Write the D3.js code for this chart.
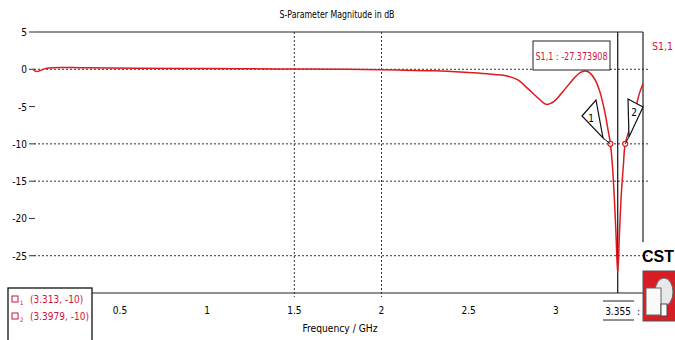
<!DOCTYPE html>
<html>
<head>
<meta charset="utf-8">
<script src="https://cdn.jsdelivr.net/npm/d3@7"></script>
<style>
  body { margin: 0; background: #fff; }
  svg text { font-family: "DejaVu Sans Condensed", "DejaVu Sans", sans-serif; }
</style>
</head>
<body>
<div id="chart"></div>
<script>
// S-parameter S1,1
const freq = [0, 0.02, 0.04, 0.08, 0.3, 0.6, 1.0, 1.4, 1.8, 2.1, 2.3, 2.45, 2.55, 2.65, 2.72, 2.78, 2.84, 2.9, 2.945, 2.99, 3.04, 3.09, 3.13, 3.16, 3.19, 3.22, 3.25, 3.28, 3.3, 3.313, 3.325, 3.335, 3.345, 3.355, 3.365, 3.375, 3.387, 3.3979, 3.42, 3.45, 3.48, 3.5];
const s11 = [0, -0.3, -0.2, 0.15, 0.2, 0.15, 0.1, 0.05, 0.0, -0.1, -0.2, -0.35, -0.5, -0.7, -0.9, -1.4, -2.6, -3.9, -4.7, -4.3, -3.0, -1.6, -0.6, -0.25, -0.4, -1.2, -2.8, -5.6, -8.2, -10, -13, -17, -22, -27.37, -22, -17, -13, -10, -8.2, -5.9, -3.2, -1.9];

const yTicks = [5, 0, -5, -10, -15, -20, -25];
const xTicks = [0.5, 1, 1.5, 2, 2.5, 3];
const yGrid = [0, -10, -15, -25];
const xGrid = [1.5, 2];
const markers = [[3.313, -10], [3.3979, -10]];
const markerLabels = ["(3.313, -10)", "(3.3979, -10)"];
const cursorFreq = 3.355;
const minLabel = "S1,1 : -27.373908";

const W = 675, H = 340;
const svg = d3.select("#chart").append("svg").attr("width", W).attr("height", H);

const x = d3.scaleLinear().domain([0, 3.5]).range([32.8, 643]);
const y = d3.scaleLinear().domain([-30, 5]).range([293, 32]);

// title
svg.append("text").attr("x", 337).attr("y", 18).attr("text-anchor", "middle")
  .attr("textLength", 115).attr("lengthAdjust", "spacingAndGlyphs")
  .style("font-size", "11px").text("S-Parameter Magnitude in dB");

// frame
svg.append("line").attr("x1", 35).attr("x2", x(3.5)).attr("y1", y(5)).attr("y2", y(5)).attr("stroke", "#222").attr("stroke-width", 1.2);
svg.append("line").attr("x1", x(3.5)).attr("x2", x(3.5)).attr("y1", y(5)).attr("y2", 242).attr("stroke", "#222").attr("stroke-width", 1.2);
svg.append("line").attr("x1", 35).attr("x2", x(3.5)).attr("y1", y(-30)).attr("y2", y(-30)).attr("stroke", "#222").attr("stroke-width", 1.2);

// grid
svg.append("g").selectAll("line").data(yGrid).enter().append("line")
  .attr("x1", 34).attr("x2", 648)
  .attr("y1", d => y(d)).attr("y2", d => y(d))
  .attr("stroke", "#333").attr("stroke-dasharray", "2,2");
svg.append("g").selectAll("line").data(xGrid).enter().append("line")
  .attr("x1", d => x(d)).attr("x2", d => x(d))
  .attr("y1", y(5)).attr("y2", y(-30) + 4)
  .attr("stroke", "#333").attr("stroke-dasharray", "2,2");

// y ticks
const yg = svg.append("g");
yg.selectAll("text").data(yTicks).enter().append("text")
  .attr("x", 27).attr("y", d => y(d) + 4).attr("text-anchor", "end")
  .style("font-size", "10px").text(d => d);
yg.selectAll("line").data(yTicks).enter().append("line")
  .attr("x1", 29).attr("x2", 35).attr("y1", d => y(d)).attr("y2", d => y(d))
  .attr("stroke", "#333");

// x ticks
svg.append("g").selectAll("text").data(xTicks).enter().append("text")
  .attr("x", d => x(d)).attr("y", 314).attr("text-anchor", "middle")
  .style("font-size", "10px").text(d => d);
svg.append("text").attr("x", 340).attr("y", 332).attr("text-anchor", "middle")
  .attr("textLength", 75).attr("lengthAdjust", "spacingAndGlyphs")
  .style("font-size", "10.5px").text("Frequency / GHz");

// cursor line
svg.append("line").attr("x1", x(cursorFreq)).attr("x2", x(cursorFreq))
  .attr("y1", y(5)).attr("y2", y(-30)).attr("stroke", "#111").attr("stroke-width", 1.2);
svg.append("line").attr("x1", 603).attr("x2", 634).attr("y1", 301).attr("y2", 301).attr("stroke", "#222");
svg.append("line").attr("x1", 603).attr("x2", 634).attr("y1", 320).attr("y2", 320).attr("stroke", "#222");
svg.append("text").attr("x", 618).attr("y", 315).attr("text-anchor", "middle")
  .style("font-size", "10px").text(cursorFreq);
svg.append("text").attr("x", 637).attr("y", 315).style("font-size", "10px").text(":");

// curve
const line = d3.line().x(d => x(d[0])).y(d => y(d[1])).curve(d3.curveCatmullRom);
svg.append("path").datum(d3.zip(freq, s11))
  .attr("d", line).attr("fill", "none").attr("stroke", "#e0191e").attr("stroke-width", 1.5);

// min value box
svg.append("rect").attr("x", 533).attr("y", 41).attr("width", 77).attr("height", 29)
  .attr("fill", "#fff").attr("stroke", "#222");
svg.append("text").attr("x", 571.5).attr("y", 60).attr("text-anchor", "middle")
  .attr("textLength", 72).attr("lengthAdjust", "spacingAndGlyphs")
  .attr("fill", "#d0143c").style("font-size", "11px").text(minLabel);

// legend name
svg.append("text").attr("x", 652).attr("y", 50).attr("fill", "#d0143c")
  .style("font-size", "10.5px").text("S1,1");

// marker points
svg.append("g").selectAll("circle").data(markers).enter().append("circle")
  .attr("cx", d => x(d[0])).attr("cy", d => y(d[1])).attr("r", 2.5)
  .attr("fill", "#fff").attr("stroke", "#e0191e").attr("stroke-width", 1.2);

// marker flags
const flags = [
  { pts: [[582, 116], [596, 100], [603, 138]], label: "1", lx: 591, ly: 122 },
  { pts: [[628, 99], [643, 107], [629, 137]], label: "2", lx: 634, ly: 116 }
];
flags.forEach((f, i) => {
  const mx = x(markers[i][0]), my = y(markers[i][1]);
  const tp = f.pts[2];
  svg.append("line").attr("x1", tp[0]).attr("y1", tp[1]).attr("x2", mx).attr("y2", my)
    .attr("stroke", "#111");
  svg.append("polygon").attr("points", f.pts.map(p => p.join(",")).join(" "))
    .attr("fill", "#fff").attr("stroke", "#111").attr("stroke-width", 1.2);
  svg.append("text").attr("x", f.lx).attr("y", f.ly).attr("text-anchor", "middle")
    .style("font-size", "10px").text(f.label);
});

// marker legend box
svg.append("rect").attr("x", 8).attr("y", 288).attr("width", 84).attr("height", 60)
  .attr("fill", "#fff").attr("stroke", "#111").attr("stroke-width", 1.3);
const lg = svg.append("g").selectAll("g").data(markerLabels).enter().append("g")
  .attr("transform", (d, i) => "translate(12," + (302 + i * 17) + ")");
lg.append("rect").attr("x", 0).attr("y", -6).attr("width", 6).attr("height", 6)
  .attr("fill", "none").attr("stroke", "#d0143c");
lg.append("text").attr("x", 8).attr("y", 3).attr("fill", "#d0143c").style("font-size", "6px")
  .text((d, i) => i + 1);
lg.append("text").attr("x", 18).attr("y", 1).attr("fill", "#d0143c")
  .style("font-size", "10px").text(d => d);

// CST logo
svg.append("text").attr("x", 642).attr("y", 262).style("font-family", "Liberation Sans, Arial, sans-serif")
  .style("font-weight", "bold").style("font-size", "16px").text("CST");
svg.append("rect").attr("x", 643).attr("y", 271).attr("width", 34).attr("height", 50)
  .attr("fill", "#d81e25").attr("stroke", "#555");
svg.append("ellipse").attr("cx", 664).attr("cy", 292).attr("rx", 9).attr("ry", 14)
  .attr("fill", "#e8e8e8").attr("stroke", "#666");
svg.append("rect").attr("x", 646).attr("y", 288).attr("width", 15).attr("height", 27)
  .attr("fill", "#fafafa").attr("stroke", "#666");
svg.append("rect").attr("x", 661).attr("y", 304).attr("width", 6).attr("height", 12)
  .attr("fill", "#fff").attr("stroke", "#444");
</script>
</body>
</html>
